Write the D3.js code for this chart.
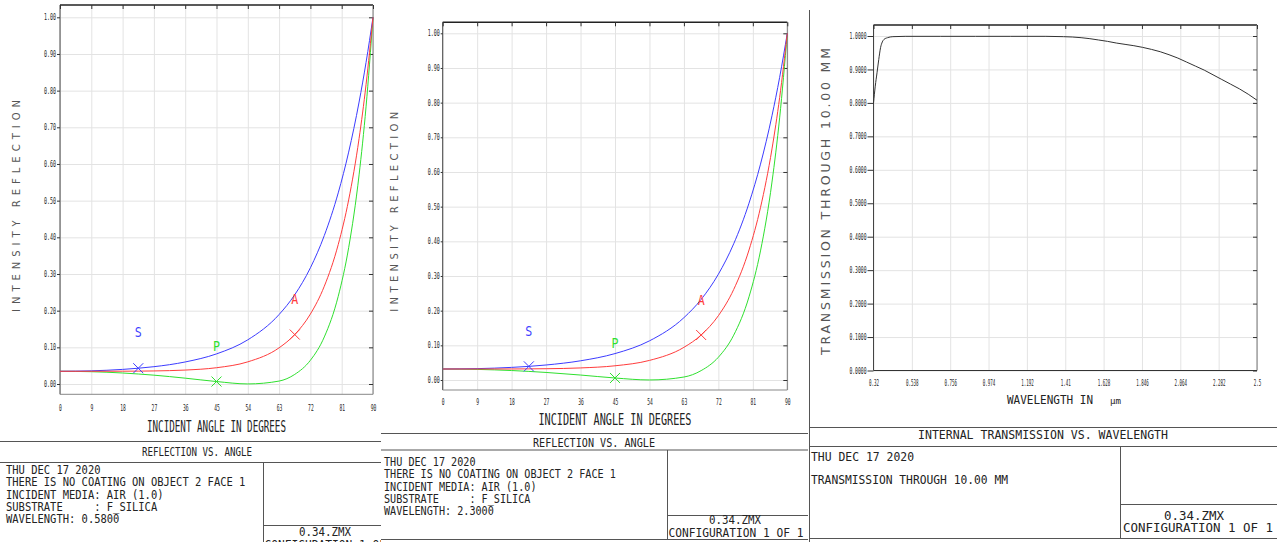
<!DOCTYPE html>
<html>
<head>
<meta charset="utf-8">
<script src="https://cdn.jsdelivr.net/npm/d3@7"></script>
<style>
  body { margin: 0; background: #fff; }
  svg { display: block; }
  text { font-family: "DejaVu Sans Mono", monospace; fill: #222; }
  .grid line { stroke: #e3e3e3; }
  .grid path, .ticks path { display: none; }
  .ticks line { stroke: #333; }
  .box line { stroke: #555; }
</style>
</head>
<body>
<script>
// incident angle (deg) and reflectance
var angles = [0, 9, 18, 22.5, 27, 36, 45, 54, 63, 67.5, 72, 76, 80, 83, 86, 88, 90];

var visS = [0.0347, 0.0359, 0.0398, 0.0430, 0.0472, 0.0601, 0.0821, 0.1205, 0.1895, 0.2434, 0.3169, 0.4049, 0.5212, 0.6323, 0.7689, 0.8767, 1.0];
var visP = [0.0347, 0.0335, 0.0300, 0.0273, 0.0241, 0.0159, 0.0067, 0.0002, 0.0080, 0.0262, 0.0647, 0.1283, 0.2391, 0.3716, 0.5704, 0.7558, 1.0];
var visA = [0.0347, 0.0347, 0.0349, 0.0351, 0.0356, 0.0380, 0.0444, 0.0604, 0.0987, 0.1348, 0.1908, 0.2666, 0.3802, 0.5019, 0.6696, 0.8163, 1.0];

var irS = [0.0317, 0.0328, 0.0364, 0.0393, 0.0433, 0.0554, 0.0762, 0.1129, 0.1798, 0.2325, 0.3052, 0.3929, 0.5100, 0.6226, 0.7621, 0.8729, 1.0];
var irP = [0.0317, 0.0306, 0.0273, 0.0248, 0.0218, 0.0143, 0.0058, 0.0001, 0.0086, 0.0271, 0.0657, 0.1293, 0.2399, 0.3723, 0.5709, 0.7561, 1.0];
var irA = [0.0317, 0.0317, 0.0318, 0.0321, 0.0325, 0.0348, 0.0410, 0.0565, 0.0942, 0.1298, 0.1855, 0.2611, 0.3750, 0.4974, 0.6665, 0.8145, 1.0];

// where the X marks sit on each curve
var markS = 22.5, markP = 45, markA = 67.5;

var angleTicks = [0, 9, 18, 27, 36, 45, 54, 63, 72, 81, 90];
var reflTicks = [0, 0.1, 0.2, 0.3, 0.4, 0.5, 0.6, 0.7, 0.8, 0.9, 1.0];

// internal transmission through 10 mm
var waveLen = [0.32, 0.33, 0.34, 0.35, 0.36, 0.37, 0.38, 0.40, 0.43, 0.50, 0.70, 0.90, 1.10, 1.30, 1.40, 1.45, 1.50, 1.55, 1.60, 1.65, 1.70, 1.75, 1.80, 1.85, 1.90, 1.95, 2.00, 2.05, 2.10, 2.15, 2.20, 2.25, 2.30, 2.35, 2.40, 2.45, 2.50];
var trans   = [0.800, 0.850, 0.890, 0.930, 0.965, 0.982, 0.990, 0.995, 0.998, 0.999, 0.999, 0.999, 0.999, 0.999, 0.998, 0.997, 0.995, 0.992, 0.988, 0.984, 0.979, 0.975, 0.971, 0.966, 0.960, 0.953, 0.944, 0.934, 0.922, 0.910, 0.898, 0.884, 0.870, 0.856, 0.842, 0.826, 0.808];
var waveTicks = [0.32, 0.538, 0.756, 0.974, 1.192, 1.41, 1.628, 1.846, 2.064, 2.282, 2.5];
var transTicks = [0, 0.1, 0.2, 0.3, 0.4, 0.5, 0.6, 0.7, 0.8, 0.9, 1.0];

var visInfo = ["THU DEC 17 2020", "THERE IS NO COATING ON OBJECT 2 FACE 1", "INCIDENT MEDIA: AIR (1.0)", "SUBSTRATE     : F_SILICA", "WAVELENGTH: 0.5800"];
var irInfo  = ["THU DEC 17 2020", "THERE IS NO COATING ON OBJECT 2 FACE 1", "INCIDENT MEDIA: AIR (1.0)", "SUBSTRATE     : F_SILICA", "WAVELENGTH: 2.3000"];
var trInfo  = ["THU DEC 17 2020", "TRANSMISSION THROUGH 10.00 MM"];

var svg = d3.select("body").append("svg").attr("width", 1277).attr("height", 542);
var defs = svg.append("defs");

function clip(id, x, w) {
  defs.append("clipPath").attr("id", id)
    .append("rect").attr("x", x).attr("y", 0).attr("width", w).attr("height", 542);
  return svg.append("g").attr("clip-path", "url(#" + id + ")");
}

function squeeze(sel, perChar) {
  sel.each(function () {
    var t = d3.select(this);
    t.attr("textLength", t.text().length * perChar).attr("lengthAdjust", "spacingAndGlyphs");
  });
}

function label(g, txt, x, y, size, width, anchor, adjust) {
  return g.append("text").attr("x", x).attr("y", y).attr("dy", "0.36em")
    .attr("font-size", size).attr("text-anchor", anchor || "start")
    .attr("textLength", width).attr("lengthAdjust", adjust || "spacingAndGlyphs")
    .style("white-space", "pre").text(txt);
}

function hline(g, x1, x2, y) {
  g.append("line").attr("x1", x1).attr("x2", x2).attr("y1", y).attr("y2", y);
}
function vline(g, x, y1, y2) {
  g.append("line").attr("x1", x).attr("x2", x).attr("y1", y1).attr("y2", y2);
}

function frame(g, x, y, L, xTicks, yTicks, yFmt, yCw, xCw) {
  var w = L.right - L.left, h = L.bottom - L.top;
  g.append("g").attr("class", "grid")
    .attr("transform", "translate(0," + L.bottom + ")")
    .call(d3.axisBottom(x).tickValues(xTicks).tickSize(-h).tickFormat(""));
  g.append("g").attr("class", "grid")
    .attr("transform", "translate(" + L.left + ",0)")
    .call(d3.axisLeft(y).tickValues(yTicks).tickSize(-w).tickFormat(""));

  // frame
  g.append("line").attr("x1", L.left).attr("x2", L.right).attr("y1", L.top).attr("y2", L.top)
    .attr("stroke", "#222").attr("stroke-width", 1.6);
  g.append("line").attr("x1", L.left).attr("x2", L.left).attr("y1", L.top).attr("y2", L.bottom)
    .attr("stroke", "#444");
  g.append("line").attr("x1", L.right).attr("x2", L.right).attr("y1", L.top).attr("y2", L.bottom)
    .attr("stroke", "#777");
  g.append("line").attr("x1", L.left).attr("x2", L.right).attr("y1", L.bottom).attr("y2", L.bottom)
    .attr("stroke", L.bottomDark ? "#333" : "#888");

  // inward ticks on top and right
  g.append("g").attr("class", "ticks").attr("transform", "translate(0," + L.top + ")")
    .call(d3.axisTop(x).tickValues(xTicks).tickSize(-4).tickFormat(""));
  g.append("g").attr("class", "ticks").attr("transform", "translate(" + L.right + ",0)")
    .call(d3.axisRight(y).tickValues(yTicks).tickSize(-4).tickFormat(""));

  // labelled axes
  var ya = g.append("g").attr("class", "ticks").attr("transform", "translate(" + L.left + ",0)")
    .call(d3.axisLeft(y).tickValues(yTicks).tickSize(L.yTick).tickPadding(1).tickFormat(yFmt));
  ya.selectAll("text").attr("font-size", 8).attr("fill", "#333")
    .style("font-family", "'DejaVu Sans Mono', monospace").call(squeeze, yCw);
  var xa = g.append("g").attr("class", "ticks").attr("transform", "translate(0," + L.bottom + ")")
    .call(d3.axisBottom(x).tickValues(xTicks).tickSize(0).tickPadding(L.xPad).tickFormat(L.xFmt));
  xa.selectAll("text").attr("font-size", 8).attr("fill", "#333")
    .style("font-family", "'DejaVu Sans Mono', monospace").call(squeeze, xCw);
}

function drawReflection(g, L, S, P, A, info) {
  var x = d3.scaleLinear().domain([0, 90]).range([L.left, L.right]);
  var y = d3.scaleLinear().domain([0, 1]).range([L.zero, L.one]);
  frame(g, x, y, L, angleTicks, reflTicks, d3.format(".2f"), 3, 2.8);

  var line = d3.line().x(function (d) { return x(d[0]); }).y(function (d) { return y(d[1]); })
    .curve(d3.curveMonotoneX);
  var series = [
    {v: P, c: "#2fe02f", m: markP, t: "P"},
    {v: S, c: "#3c3cff", m: markS, t: "S"},
    {v: A, c: "#ff3c3c", m: markA, t: "A"}
  ];
  series.forEach(function (s) {
    g.append("path").datum(angles.map(function (a, i) { return [a, s.v[i]]; }))
      .attr("d", line).attr("fill", "none").attr("stroke", s.c).attr("stroke-width", 1);
  });
  series.forEach(function (s) {
    var i = angles.indexOf(s.m), cx = x(s.m), cy = y(s.v[i]);
    g.append("path").attr("d", "M" + (cx - 5) + "," + (cy - 5) + "L" + (cx + 5) + "," + (cy + 5) +
        "M" + (cx - 5) + "," + (cy + 5) + "L" + (cx + 5) + "," + (cy - 5))
      .attr("stroke", s.c).attr("stroke-width", 1);
    label(g, s.t, cx, cy - L.lab, 14, 7, "middle").attr("fill", s.c).style("fill", s.c);
  });

  label(g, "INCIDENT ANGLE IN DEGREES", (L.left + L.right) / 2, L.xTitleY, 15, L.xTitleW, "middle")
    .attr("fill", "#333");
  g.append("text").attr("transform", "translate(" + L.yTitleX + "," + L.yTitleY + ") rotate(-90)")
    .attr("dy", "0.36em").attr("text-anchor", "middle").attr("font-size", 10)
    .attr("textLength", L.yTitleW).attr("lengthAdjust", "spacing")
    .style("font-family", "'DejaVu Sans', sans-serif").style("fill", "#555")
    .text("INTENSITY REFLECTION");

  // title block
  var b = g.append("g").attr("class", "box");
  hline(b, L.x0, L.x1, L.b1);
  label(b, "REFLECTION VS. ANGLE", L.titleX, L.titleY, 13, L.titleW, "middle");
  hline(b, L.x0, L.x1, L.b2);
  info.forEach(function (t, i) {
    label(b, t, L.infoX, L.infoY[i], 11.5, t.length * L.cw);
  });
  vline(b, L.div, L.b2, L.b3);
  hline(b, L.div, L.x1, L.b4);
  hline(b, L.x0, L.x1, L.b3);
  label(b, "0.34.ZMX", L.zmxX, L.zmxY, 13, 52, "middle");
  label(b, "CONFIGURATION 1 OF 1", L.div + 1, L.cfgY, 13, 135);
}

// left panel (0.58 um)
var gL = clip("clipL", 0, 381);
drawReflection(gL, {
  left: 60, right: 373, zero: 384, one: 17.3, top: 5, bottom: 394.3,
  yTick: 3, xPad: 11, xFmt: d3.format("d"),
  lab: 36, xTitleY: 427, xTitleW: 139, yTitleX: 16, yTitleY: 206, yTitleW: 212,
  x0: 0, x1: 400, b1: 441.5, b2: 462.5, b3: 560, b4: 525.5, div: 263.5,
  titleX: 197, titleY: 451.7, titleW: 110,
  infoX: 6, infoY: [470, 482.3, 495, 507, 519.3], cw: 6.3,
  zmxX: 325, zmxY: 531, cfgY: 544
}, visS, visP, visA, visInfo);

// middle panel (2.3 um)
var gM = clip("clipM", 381, 428);
drawReflection(gM, {
  left: 442.7, right: 787.3, zero: 380, one: 33.3, top: 22.3, bottom: 390,
  yTick: 2, xPad: 9, xFmt: d3.format("d"),
  lab: 35, xTitleY: 420, xTitleW: 153, yTitleX: 394, yTitleY: 211.7, yTitleW: 200,
  x0: 380, x1: 808, b1: 433.5, b2: 450, b3: 539.5, b4: 515.5, div: 667.5,
  titleX: 594, titleY: 442.7, titleW: 122,
  infoX: 384, infoY: [462, 474, 486.5, 498.5, 511], cw: 6.1,
  zmxX: 735, zmxY: 519.3, cfgY: 532.3
}, irS, irP, irA, irInfo);

// right panel: internal transmission
var gR = clip("clipR", 809, 468);
(function () {
  var L = {left: 873.5, right: 1257, top: 25, bottom: 370.5, yTick: 6, xPad: 9.7,
           xFmt: function (d) { return String(d); }, bottomDark: true};
  var x = d3.scaleLinear().domain([0.32, 2.5]).range([L.left, L.right]);
  var y = d3.scaleLinear().domain([0, 1]).range([370.5, 36]);
  frame(gR, x, y, L, waveTicks, transTicks, d3.format(".4f"), 2.85, 2.5);

  var line = d3.line().x(function (d) { return x(d[0]); }).y(function (d) { return y(d[1]); })
    .curve(d3.curveMonotoneX);
  gR.append("path").datum(waveLen.map(function (w, i) { return [w, trans[i]]; }))
    .attr("d", line).attr("fill", "none").attr("stroke", "#333").attr("stroke-width", 1);

  label(gR, "WAVELENGTH IN", 1007, 399.5, 13, 86).attr("fill", "#333");
  label(gR, "\u00b5m", 1110, 400.5, 9, 11).attr("fill", "#333");

  gR.append("text").attr("transform", "translate(825,201.5) rotate(-90)")
    .attr("dy", "0.36em").attr("text-anchor", "middle").attr("font-size", 12.5)
    .attr("textLength", 307).attr("lengthAdjust", "spacing")
    .style("font-family", "'DejaVu Sans', sans-serif").style("fill", "#555")
    .text("TRANSMISSION THROUGH 10.00 MM");

  var b = gR.append("g").attr("class", "box");
  vline(b, 809.5, 10, 542);
  hline(b, 809, 1277, 427.5);
  label(b, "INTERNAL TRANSMISSION VS. WAVELENGTH", 1043, 435, 12, 250, "middle");
  hline(b, 809, 1277, 446.5);
  label(b, trInfo[0], 811, 457, 11.5, 103);
  label(b, trInfo[1], 811, 480, 11.5, 197);
  vline(b, 1120.5, 446.5, 538);
  hline(b, 1120, 1277, 504.5);
  label(b, "0.34.ZMX", 1194, 515, 13, 60, "middle");
  label(b, "CONFIGURATION 1 OF 1", 1123, 528, 12, 150);
  hline(b, 809, 1277, 538.5);
})();
</script>
</body>
</html>
